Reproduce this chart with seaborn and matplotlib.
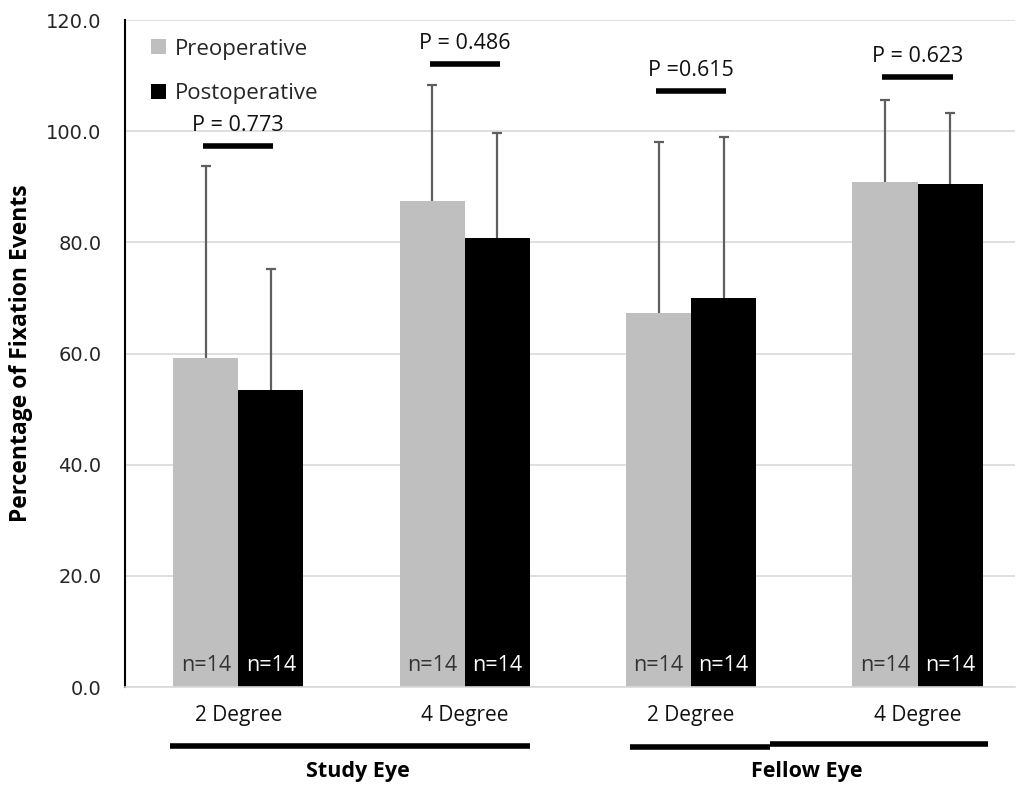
import matplotlib
matplotlib.use("Agg")
import matplotlib.pyplot as plt
import matplotlib.transforms as mtransforms
from matplotlib.patches import Patch
import seaborn as sns
import pandas as pd

# ---- data ----
conditions = ["Study 2", "Study 4", "Fellow 2", "Fellow 4"]
tick_labels = ["2 Degree", "4 Degree", "2 Degree", "4 Degree"]
eye_groups = ["Study Eye", "Fellow Eye"]
phases = ["Preoperative", "Postoperative"]
pre_mean = [59.2, 87.5, 67.3, 90.9]
post_mean = [53.4, 80.7, 69.9, 90.5]
pre_sd = [34.6, 20.8, 30.7, 14.8]
post_sd = [21.8, 18.9, 29.0, 12.7]
p_labels = ["P = 0.773", "P = 0.486", "P =0.615", "P = 0.623"]
p_line_y = [97.3, 112.1, 107.3, 109.8]
n_labels = ["n=14", "n=14", "n=14", "n=14"]

df = pd.DataFrame({
    "cond": conditions * 2,
    "phase": [phases[0]] * 4 + [phases[1]] * 4,
    "value": pre_mean + post_mean,
    "sd": pre_sd + post_sd,
})

sns.set_theme(style="white")
plt.rcParams["font.family"] = ["Open Sans", "DejaVu Sans"]

fig = plt.figure(figsize=(10.19, 7.85), dpi=100)
ax = fig.add_axes([0.1227, 0.1248, 0.8733, 0.8497])

colors = {"Preoperative": "#BFBFBF", "Postoperative": "#000000"}
sns.barplot(data=df, x="cond", y="value", hue="phase", order=conditions,
            hue_order=phases, palette=colors, width=0.575, errorbar=None,
            saturation=1, linewidth=0, legend=False, ax=ax, zorder=2)

bar_containers = list(ax.containers)
sds = [pre_sd, post_sd]
means = [pre_mean, post_mean]
for ci, cont in enumerate(bar_containers):
    xs = [p.get_x() + p.get_width() / 2 for p in cont.patches]
    eb = ax.errorbar(xs, means[ci], yerr=[[0] * 4, sds[ci]], fmt="none",
                     ecolor="#5f5f5f", elinewidth=1.6, capsize=3.5,
                     capthick=1.6, zorder=3)
    caps = eb[1]
    if len(caps) >= 2:
        caps[0].set_visible(False)
    tcolor = "#333333" if ci == 0 else "white"
    for x, lab in zip(xs, n_labels):
        ax.text(x, 3.8, lab, ha="center", va="center", fontsize=15.5,
                color=tcolor, zorder=4)

# p-value annotations
for i, (lab, yv) in enumerate(zip(p_labels, p_line_y)):
    ax.plot([i - 0.155, i + 0.155], [yv, yv], color="black", lw=4,
            solid_capstyle="butt", zorder=4)
    ax.text(i, yv + 3.7, lab, ha="center", va="center", fontsize=15.5,
            color="#111111")

ax.set_ylim(0, 120)
ax.set_xlim(-0.5, 3.43)
ax.set_yticks(range(0, 121, 20))
ax.set_yticklabels([f"{v:.1f}" for v in range(0, 121, 20)],
                   family="DejaVu Sans", fontsize=14, color="#262626")
ax.set_xticks(range(4))
ax.set_xticklabels(tick_labels, fontsize=15, color="#111111")
ax.tick_params(axis="x", length=0, pad=13)
ax.tick_params(axis="y", length=0, pad=17)
ax.yaxis.grid(True, color="#D9D9D9", lw=1.2, zorder=0)
ax.set_axisbelow(True)
ax.set_xlabel("")
ax.set_ylabel("Percentage of Fixation Events", fontsize=16.5,
              fontweight="bold", labelpad=9, color="black")

for s in ["top", "right"]:
    ax.spines[s].set_visible(False)
ax.spines["left"].set_color("black")
ax.spines["left"].set_linewidth(1.5)
ax.spines["bottom"].set_color("#D9D9D9")
ax.spines["bottom"].set_linewidth(1.2)

# group brackets below x axis
trans = mtransforms.blended_transform_factory(ax.transData, ax.transAxes)
ax.plot([-0.30, 1.29], [-0.088, -0.088], color="black", lw=4,
        transform=trans, clip_on=False, solid_capstyle="butt")
ax.plot([1.73, 2.35], [-0.090, -0.090], color="black", lw=4,
        transform=trans, clip_on=False, solid_capstyle="butt")
ax.plot([2.35, 3.31], [-0.086, -0.086], color="black", lw=4,
        transform=trans, clip_on=False, solid_capstyle="butt")
ax.text(0.53, -0.127, eye_groups[0], transform=trans, ha="center",
        va="center", fontsize=15.5, fontweight="bold", color="black")
ax.text(2.51, -0.127, eye_groups[1], transform=trans, ha="center",
        va="center", fontsize=15.5, fontweight="bold", color="black")

handles = [Patch(facecolor=colors[p], edgecolor="none", label=p) for p in phases]
ax.legend(handles=handles, loc="upper left", bbox_to_anchor=(0.007, 1.002),
          frameon=False, fontsize=16, labelspacing=1.05, handlelength=0.65,
          handleheight=0.65, handletextpad=0.4)

fig.savefig("out.png", dpi=100)
